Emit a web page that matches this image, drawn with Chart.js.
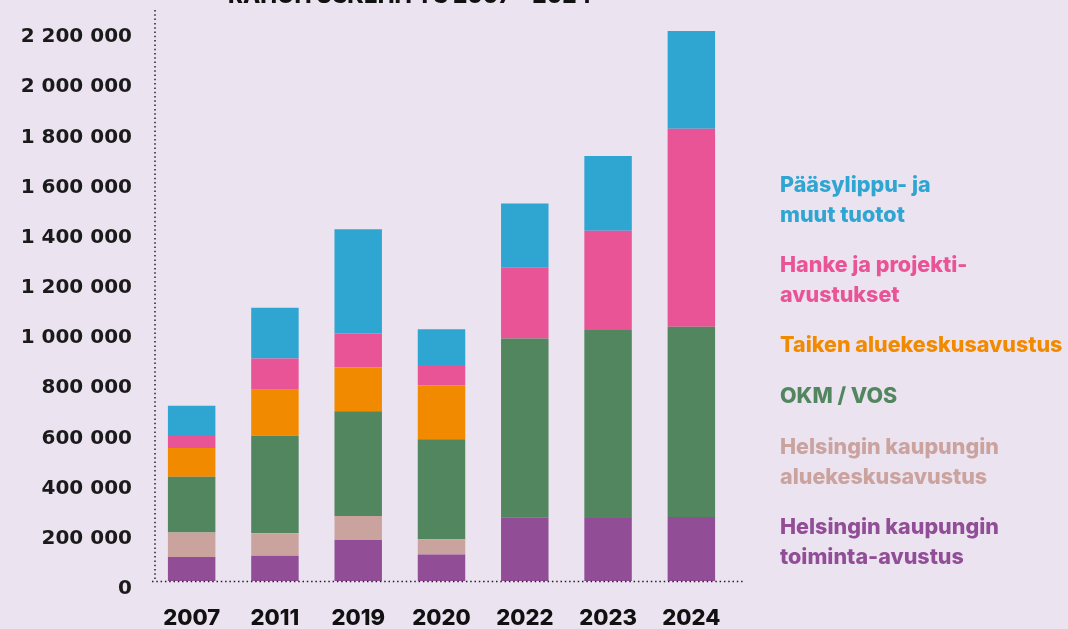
<!DOCTYPE html>
<html>
<head>
<meta charset="utf-8">
<script src="https://cdn.jsdelivr.net/npm/chart.js@4.4.1/dist/chart.umd.min.js"></script>
<style>
  html, body { margin: 0; padding: 0; background: #ece3f1; }
  #wrap { width: 1068px; height: 629px; position: relative; }
</style>
</head>
<body>
<div id="wrap"><canvas id="fundingChart" width="1068" height="629"></canvas></div>
<script>
// Data (EUR)
const years = ['2007', '2011', '2019', '2020', '2022', '2023', '2024'];
const cityOperating = [96000, 101000, 163000, 106000, 254000, 251000, 255000];
const cityRegional = [97000, 89000, 96000, 60000, 0, 0, 0];
const okmVos = [223000, 389000, 418000, 399000, 713000, 749000, 758000];
const taike = [114000, 183000, 175000, 215000, 0, 0, 0];
const projects = [48000, 125000, 134000, 77000, 283000, 396000, 790000];
const tickets = [120000, 202000, 416000, 146000, 255000, 298000, 389000];
const yTicks = [0, 200000, 400000, 600000, 800000, 1000000, 1200000, 1400000, 1600000, 1800000, 2000000, 2200000];

const chartTitle = 'RAHOITUSKEHITYS 2007 – 2024';

// Series, bottom of the stack first
const series = [
  { label: ['Helsingin kaupungin', 'toiminta-avustus'], data: cityOperating, color: '#914e96' },
  { label: ['Helsingin kaupungin', 'aluekeskusavustus'], data: cityRegional, color: '#caa39f' },
  { label: ['OKM / VOS'], data: okmVos, color: '#52865f' },
  { label: ['Taiken aluekeskusavustus'], data: taike, color: '#f28a00' },
  { label: ['Hanke ja projekti-', 'avustukset'], data: projects, color: '#e85496' },
  { label: ['Pääsylippu- ja', 'muut tuotot'], data: tickets, color: '#2fa5d2' }
];

function formatNumber(v) {
  return String(v).replace(/\B(?=(\d{3})+(?!\d))/g, ' ');
}

// Legend as coloured text on the right, top entry = top of stack
const textLegend = {
  id: 'textLegend',
  afterDraw(chart) {
    const ctx = chart.ctx;
    ctx.save();
    ctx.font = '800 21.5px Inter';
    ctx.textBaseline = 'middle';
    ctx.textAlign = 'left';
    let y = 186;
    chart.data.datasets.slice().reverse().forEach(ds => {
      ctx.fillStyle = ds.backgroundColor;
      ds.legendLines.forEach((line, i) => {
        ctx.fillText(line, 780, y + i * 29.5);
      });
      y += ds.legendLines.length > 1 ? 80 : 51;
    });
    ctx.restore();
  }
};

// Dotted axis lines
const dottedAxes = {
  id: 'dottedAxes',
  afterDatasetsDraw(chart) {
    const ctx = chart.ctx;
    const y0 = chart.scales.y.getPixelForValue(0);
    const area = chart.chartArea;
    ctx.save();
    ctx.strokeStyle = '#222';
    ctx.lineWidth = 1.5;
    ctx.setLineDash([1.5, 2.8]);
    ctx.beginPath();
    ctx.moveTo(area.left + 5, area.top);
    ctx.lineTo(area.left + 5, y0);
    ctx.moveTo(area.left + 2, y0 + 0.5);
    ctx.lineTo(745, y0 + 0.5);
    ctx.stroke();
    ctx.restore();
  }
};

// Title, mostly cut off by the top edge
const cutTitle = {
  id: 'cutTitle',
  afterDraw(chart) {
    const ctx = chart.ctx;
    ctx.save();
    ctx.font = '800 22.5px Inter';
    ctx.fillStyle = '#111';
    ctx.textBaseline = 'alphabetic';
    ctx.fillText(chartTitle, 228, 3);
    ctx.restore();
  }
};

const ctx = document.getElementById('fundingChart').getContext('2d');
const fundingChart = new Chart(ctx, {
  type: 'bar',
  data: {
    labels: years,
    datasets: series.map(s => ({
      label: s.label.join(' '),
      legendLines: s.label,
      data: s.data,
      backgroundColor: s.color,
      borderWidth: 0,
      categoryPercentage: 1,
      barPercentage: 0.57
    }))
  },
  options: {
    responsive: false,
    animation: false,
    layout: { padding: { top: 10, right: 335, bottom: 0, left: 0 } },
    plugins: {
      legend: { display: false },
      tooltip: { enabled: false }
    },
    scales: {
      x: {
        stacked: true,
        grid: { display: false, drawTicks: false },
        border: { display: false },
        ticks: {
          color: '#111',
          font: { family: 'Inter', weight: '800', size: 22 },
          padding: 24,
          maxRotation: 0
        },
        afterFit(scale) {
          scale.height = 48;
          scale.paddingLeft = 0;
          scale.paddingRight = 0;
        }
      },
      y: {
        stacked: true,
        min: 0,
        max: 2275800,
        grid: { display: false, drawTicks: false },
        border: { display: false },
        afterBuildTicks(scale) {
          scale.ticks = yTicks.map(v => ({ value: v }));
        },
        ticks: {
          color: '#1a1a1a',
          font: { family: 'DejaVu Sans', weight: 'bold', size: 20 },
          padding: 18,
          labelOffset: 8,
          callback: v => formatNumber(v)
        },
        afterFit(scale) {
          scale.width = 150;
          scale.paddingTop = 0;
          scale.paddingBottom = 0;
        }
      }
    }
  },
  plugins: [dottedAxes, textLegend, cutTitle]
});
</script>
</body>
</html>
